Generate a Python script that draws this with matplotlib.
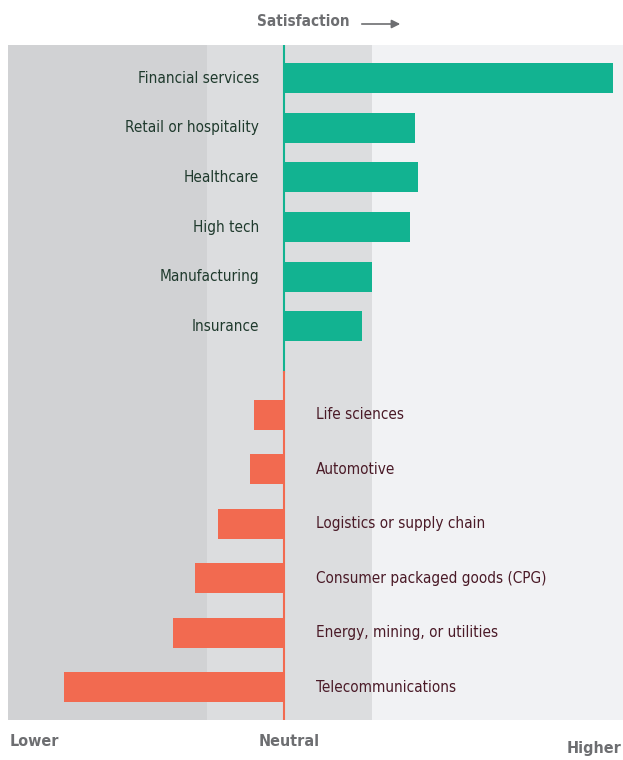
import numpy as np
import matplotlib
matplotlib.use("Agg")
import matplotlib.pyplot as plt
from matplotlib import font_manager

# satisfaction scores relative to neutral (arbitrary index)
pos_labels = ["Financial services", "Retail or hospitality", "Healthcare",
              "High tech", "Manufacturing", "Insurance"]
pos_values = [99.5, 39.5, 40.4, 38.0, 26.5, 23.5]

neg_labels = ["Life sciences", "Automotive", "Logistics or supply chain",
              "Consumer packaged goods (CPG)", "Energy, mining, or utilities",
              "Telecommunications"]
neg_values = [-9.2, -10.5, -20.0, -27.0, -33.6, -66.6]

scale_labels = ["Lower", "Neutral", "Higher"]

GREEN = "#12b391"
RED = "#f26a50"
GREY_TXT = "#6d6e71"

# pick a condensed face if there is one
cond = [f for f in font_manager.fontManager.ttflist
        if "condensed" in str(f.stretch).lower() or "narrow" in f.name.lower()
        or "condensed" in f.name.lower()]
font = cond[0].name if cond else "DejaVu Sans"
stretch = "condensed"
plt.rcParams["font.family"] = [font, "DejaVu Sans"]

W, H = 623, 760
fig = plt.figure(figsize=(W / 100, H / 100), dpi=100)
ax = fig.add_axes([8 / W, 40 / H, (W - 8) / W, 675 / H])

xmin, xmax = -83.7, 102.6
ax.set_xlim(xmin, xmax)
ax.set_ylim(720, 45)

# background bands
ax.axvspan(xmin, -23.4, color="#d1d2d4", lw=0, zorder=0)
ax.axvspan(-23.4, 26.6, color="#dcdddf", lw=0, zorder=0)
ax.axvspan(26.6, xmax, color="#f1f2f4", lw=0, zorder=0)

# row positions (pixel-like units from the top)
pos_y = 78.3 + 49.6 * np.arange(len(pos_labels))
neg_y = 414.7 + 54.5 * np.arange(len(neg_labels))

ax.barh(pos_y, pos_values, height=30, color=GREEN, zorder=2)
ax.barh(neg_y, neg_values, height=30, color=RED, zorder=2)

ax.plot([0, 0], [45, 372], color=GREEN, lw=1.5, zorder=3)
ax.plot([0, 0], [372, 720], color=RED, lw=1.5, zorder=3)

for y, lab in zip(pos_y, pos_labels):
    ax.annotate(lab, (0, y), xytext=(-18, 0), textcoords="offset points",
                ha="right", va="center", fontsize=11, fontstretch=stretch,
                color="#1f3a2d")
for y, lab in zip(neg_y, neg_labels):
    ax.annotate(lab, (0, y), xytext=(23, 0), textcoords="offset points",
                ha="left", va="center", fontsize=11, fontstretch=stretch,
                color="#4a1a27")

ax.axis("off")

# title with arrow
fig.text(303.5 / W, 1 - 21 / H, "Satisfaction", ha="center", va="center",
         fontsize=11, fontweight="bold", fontstretch=stretch, color=GREY_TXT)
fig.add_artist(matplotlib.patches.FancyArrowPatch(
    (359 / W, 1 - 24 / H), (403 / W, 1 - 24 / H), transform=fig.transFigure,
    arrowstyle="-|>,head_length=5,head_width=2.5", color=GREY_TXT, lw=1.2))

# scale labels
fig.text(10 / W, 1 - 742 / H, scale_labels[0], ha="left", va="center",
         fontsize=11.5, fontweight="bold", fontstretch=stretch, color=GREY_TXT)
fig.text(289 / W, 1 - 742 / H, scale_labels[1], ha="center", va="center",
         fontsize=11.5, fontweight="bold", fontstretch=stretch, color=GREY_TXT)
fig.text(621 / W, 1 - 749 / H, scale_labels[2], ha="right", va="center",
         fontsize=11.5, fontweight="bold", fontstretch=stretch, color=GREY_TXT)

fig.savefig("out.png", dpi=100, facecolor="white")
